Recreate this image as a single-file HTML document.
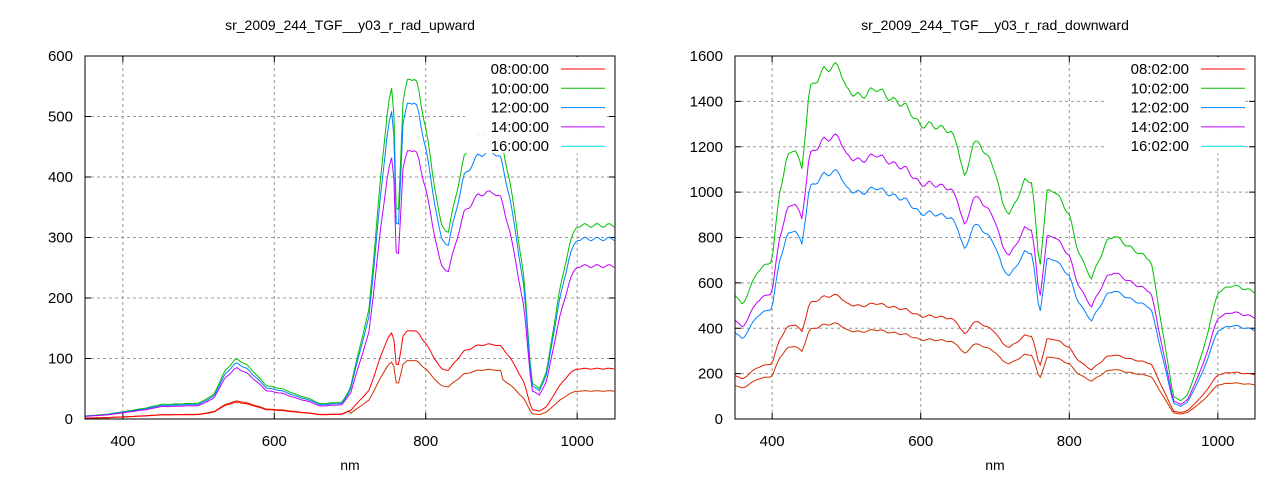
<!DOCTYPE html><html><head><style>body{margin:0;background:#fff}svg{font-family:"Liberation Sans",sans-serif}</style></head><body>
<svg id="s" width="1280" height="480" xmlns="http://www.w3.org/2000/svg"></svg>
<script>
const S=document.getElementById('s');let h='';
function plot(o){
 const X=v=>o.x0+(v-350)/700*(o.x1-o.x0), Y=v=>o.y1-v/o.ymax*(o.y1-o.y0);
 h+=`<text x="${(o.x0+o.x1)/2}" y="30" text-anchor="middle" font-size="14">${o.title}</text>`;
 h+=`<text x="${(o.x0+o.x1)/2}" y="470" text-anchor="middle" font-size="14">nm</text>`;
 for(let v=0;v<=o.ymax;v+=o.ystep){const y=Y(v);
  if(v>0&&v<o.ymax)h+=`<line x1="${o.x0}" x2="${o.x1}" y1="${y}" y2="${y}" stroke="#999" stroke-dasharray="3,3"/>`;
  h+=`<line x1="${o.x0}" x2="${o.x0+6}" y1="${y}" y2="${y}" stroke="#000"/><line x1="${o.x1}" x2="${o.x1-6}" y1="${y}" y2="${y}" stroke="#000"/>`;
  h+=`<text x="${o.x0-12}" y="${y+5}" text-anchor="end" font-size="15">${v}</text>`;}
 for(let v=400;v<=1000;v+=200){const x=X(v);
  h+=`<line x1="${x}" x2="${x}" y1="${o.y0}" y2="${o.y1}" stroke="#999" stroke-dasharray="3,3"/>`;
  h+=`<line x1="${x}" x2="${x}" y1="${o.y1}" y2="${o.y1-6}" stroke="#000"/><line x1="${x}" x2="${x}" y1="${o.y0}" y2="${o.y0+6}" stroke="#000"/>`;
  h+=`<text x="${x}" y="${o.y1+27}" text-anchor="middle" font-size="15">${v}</text>`;}
 o.series.forEach(s=>{let d='';for(let v=350;v<=1050;v+=3){
   let i=0;while(i<o.data.length-2&&o.data[i+1][0]<v)i++;
   const [a,b]=[o.data[i],o.data[i+1]];let t=(v-a[0])/(b[0]-a[0]);t=Math.max(0,Math.min(1,t));
   let val=(a[1]+(b[1]-a[1])*t)*s.f(v);val*=1+0.01*Math.sin(v*1.7);
   d+=(d?'L':'M')+X(v).toFixed(1)+','+Y(Math.max(0,Math.min(o.ymax,val))).toFixed(1);}
  h+=`<path d="${d}" fill="none" stroke="${s.c}" stroke-width="1"/>`;});
 h+=`<rect x="${o.x0}" y="${o.y0}" width="${o.x1-o.x0}" height="${o.y1-o.y0}" fill="none" stroke="#000"/>`;
 const cols=['#ff0000','#00c000','#0080ff','#c000ff','#00e0e0'];
 o.labels.forEach((l,i)=>{const y=o.y0+13+i*19.3;
  h+=`<rect x="${o.x1-150}" y="${y-12}" width="140" height="19" fill="#fff"/><text x="${o.x1-66}" y="${y+5}" text-anchor="end" font-size="15">${l}</text><line x1="${o.x1-54}" x2="${o.x1-10}" y1="${y}" y2="${y}" stroke="${cols[i]}"/>`;});
}
const up=[[350,5],[380,8],[400,12],[430,18],[450,24],[500,26],[520,40],[535,80],[550,100],[565,88],[590,55],[610,50],[630,40],[650,32],[660,25],[690,28],[700,50],[715,130],[725,180],[740,390],[750,520],[757,550],[762,300],[766,400],[770,520],[777,570],[790,550],[800,480],[810,400],[820,320],[830,310],[840,370],[850,430],[870,470],[890,475],[900,460],[910,400],[920,320],[930,230],[940,60],[950,50],[960,80],[975,200],[990,290],[1000,320],[1050,320]];
plot({x0:85,x1:615,y0:56,y1:419,ymax:600,ystep:100,title:'sr_2009_244_TGF__y03_r_rad_upward',data:up,
 labels:['08:00:00','10:00:00','12:00:00','14:00:00','16:00:00'],
 series:[{c:'#d03000',f:v=>v<700?0.3:(v<900?0.172:0.145)},{c:'#ff0000',f:v=>v<700?0.28:0.26},{c:'#00c000',f:v=>1},{c:'#0080ff',f:v=>0.93},{c:'#c000ff',f:v=>v<700?0.85:0.79}]});
const dn=[[350,550],[360,500],[380,650],[400,700],[410,1000],[420,1150],[430,1200],[440,1100],[450,1450],[470,1540],[490,1560],[500,1450],[520,1420],[540,1460],[560,1410],[580,1380],[600,1290],[610,1300],[640,1270],[650,1200],[660,1050],[670,1220],[680,1210],[700,1100],[710,950],[720,900],[740,1050],[750,1050],[760,650],[770,1000],[780,1010],[800,900],[810,760],[820,680],[830,620],[850,780],[860,810],[880,760],[900,720],[910,700],[920,500],[930,300],[940,100],[950,80],[960,110],[980,300],[1000,560],[1020,590],[1050,560]];
plot({x0:735,x1:1255,y0:56,y1:419,ymax:1600,ystep:200,title:'sr_2009_244_TGF__y03_r_rad_downward',data:dn,
 labels:['08:02:00','10:02:00','12:02:00','14:02:00','16:02:00'],
 series:[{c:'#d03000',f:v=>0.27},{c:'#e02000',f:v=>0.35},{c:'#00c000',f:v=>1},{c:'#0080ff',f:v=>0.7},{c:'#c000ff',f:v=>0.8}]});
S.innerHTML=h;
</script></body></html>
